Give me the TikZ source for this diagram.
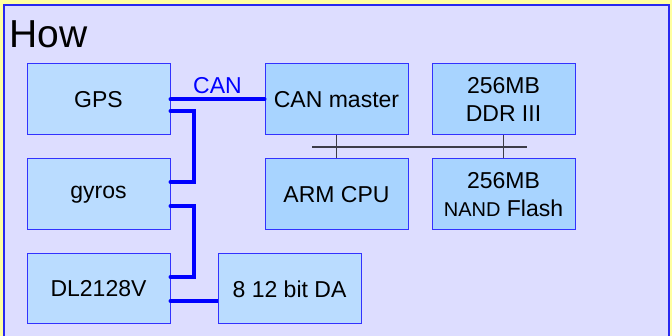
\documentclass[tikz,border=0pt]{standalone}
\usepackage{fontspec}
\setmainfont{Liberation Sans}
\usetikzlibrary{positioning}
\definecolor{pagebg}{RGB}{255, 255, 160}
\definecolor{panelbg}{RGB}{221, 221, 255}
\definecolor{panelline}{RGB}{40, 40, 240}
\definecolor{boxlight}{RGB}{186, 220, 255}
\definecolor{boxdark}{RGB}{168, 212, 255}
\definecolor{boxline}{RGB}{50, 50, 255}
\definecolor{busgray}{RGB}{60, 60, 72}

\begin{document}
\begin{tikzpicture}[x=1pt, y=-1pt,
                hwbox/.style={draw=boxline, line width=1pt, fill=boxlight,
                    minimum width=143pt, minimum height=71pt, inner sep=0pt,
                    align=center, font=\fontsize{23}{28}\selectfont},
                cpubox/.style={hwbox, fill=boxdark},
                canbus/.style={draw=blue, line width=4pt, line cap=round},
                membus/.style={draw=busgray, line width=1.3pt}
            ]
            \useasboundingbox (0, 0) rectangle (672, 336);

            % page and panel
            \fill[pagebg] (0, 0) rectangle (672, 336);
            \fill[panelbg] (3, 5) rectangle (669, 340);
            \draw[panelline, line width=2pt] (3.5, 340) -- (3.5, 5) -- (668.5, 5) -- (668.5, 340);

            % title
            \node[anchor=base west, inner sep=0pt, font=\fontsize{39}{44}\selectfont] (title) at (9, 48) {How};

            % left column
            \node[hwbox] (gps) at (98.5, 99.5) {GPS};
            \node[hwbox] (gyros) at (98.5, 194.5) {gyros};
            \node[hwbox, minimum height=70pt] (dl) at (98.5, 289) {DL2128V};
            \node[hwbox, minimum height=70pt] (da) at (289.5, 289) {8 12 bit DA};

            % main board
            \node[cpubox] (canm) at (336.5, 99.5) {CAN master};
            \node[cpubox] (ddr) at (503.5, 99.5) {256MB\\DDR III};
            \node[cpubox] (arm) at (336.5, 194.5) {ARM CPU};
            \node[cpubox] (nand) at (503.5, 194.5)
                {256MB\\{\fontsize{20}{28}\selectfont NAND} Flash};

            % CAN links
            \draw[canbus] (gps.east) -- node[above=4pt, inner sep=0pt, text=blue,
                font=\fontsize{23}{28}\selectfont] (canlabel) {CAN} (canm.west);
            \draw[canbus, line cap=butt, line join=miter] ([yshift=-11.5pt]gps.east) -- ++(23, 0)
                |- ([yshift=12.5pt]gyros.east);
            \draw[canbus, line cap=butt, line join=miter] ([yshift=-11.5pt]gyros.east) -- ++(23, 0)
                |- ([yshift=12pt]dl.east);
            \draw[canbus, line cap=butt] ([yshift=-12pt]dl.east) -- ([yshift=-12pt]da.west);
            \foreach \y/\n in {-11.5/gps, 12.5/gyros, -11.5/gyros, 12/dl, -12/dl}
                \fill[blue] ([yshift=\y pt]\n.east) circle (2pt);

            % memory bus
            \coordinate (busl) at (312, 147);
            \coordinate (busr) at (527, 147);
            \draw[membus] (busl) -- (busr);
            \draw[membus] (canm.south) -- (arm.north);
            \draw[membus] (ddr.south) -- (nand.north);

\end{tikzpicture}
\end{document}
